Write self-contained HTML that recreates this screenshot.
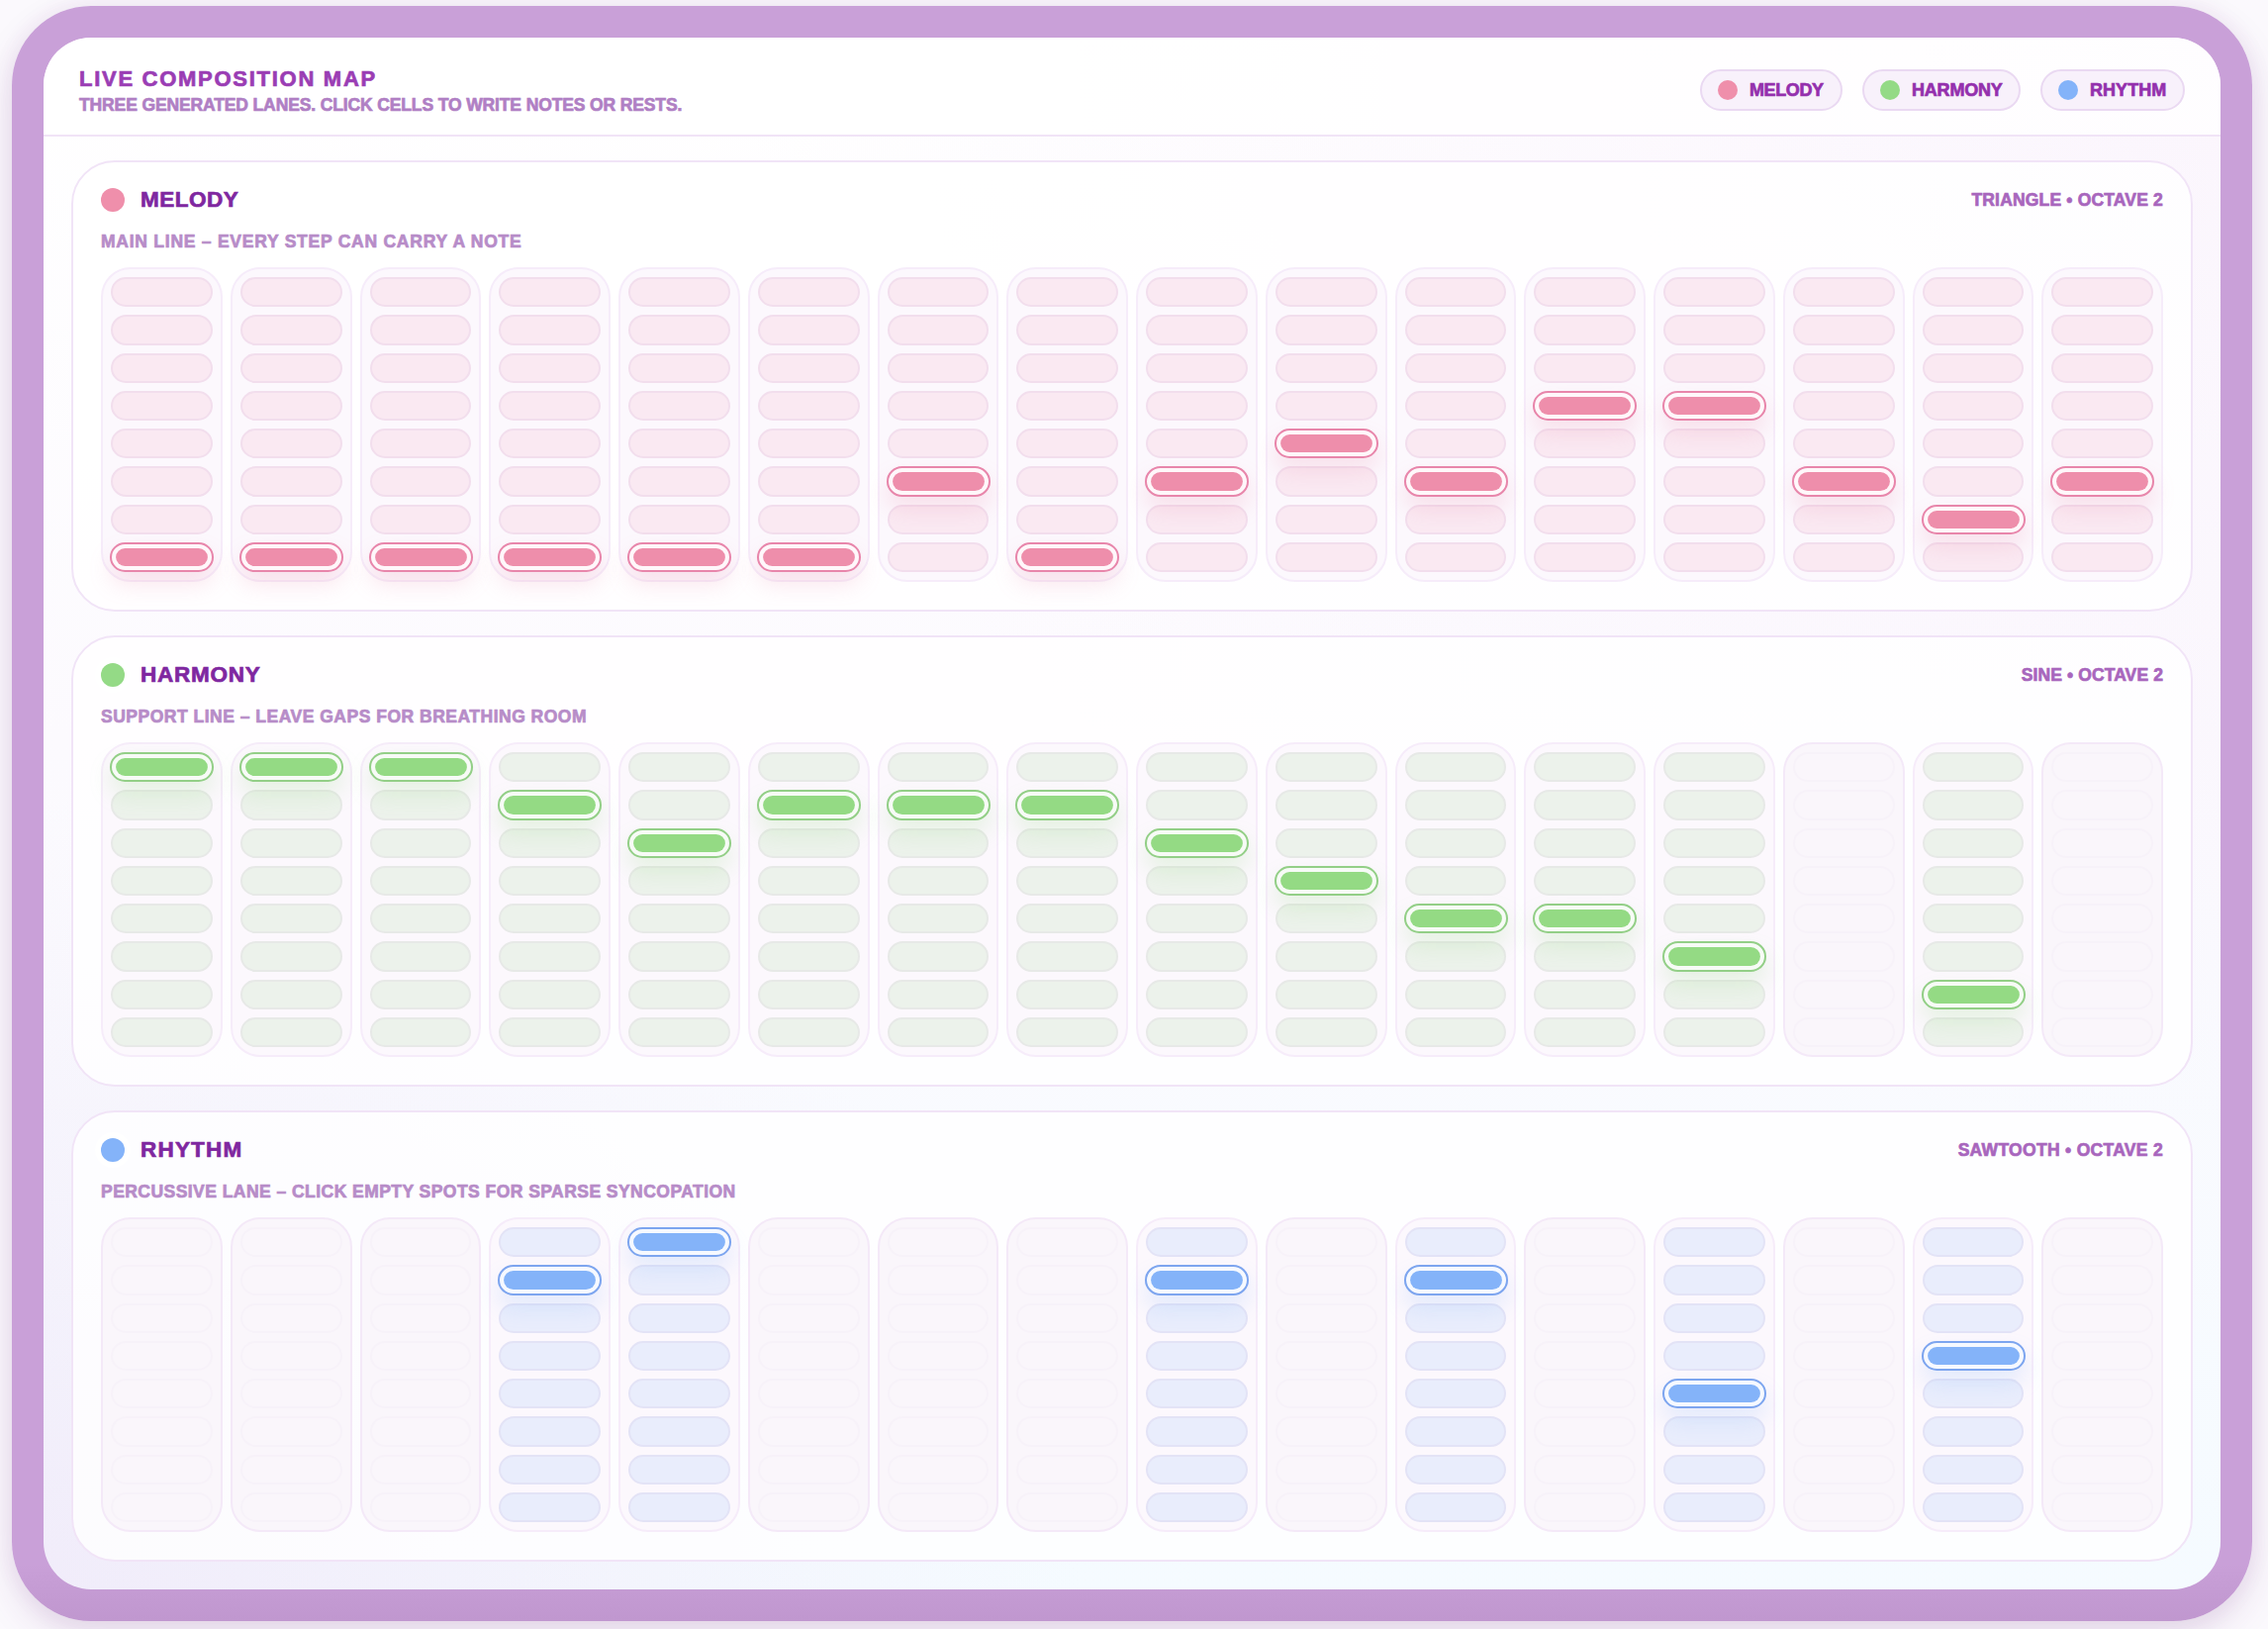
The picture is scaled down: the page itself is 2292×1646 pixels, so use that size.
<!DOCTYPE html>
<html lang="en">
<head>
<meta charset="utf-8">
<title>Live Composition Map</title>
<style>
*{box-sizing:border-box;margin:0;padding:0}
html,body{width:2292px;height:1646px;overflow:hidden}
body{font-family:"Liberation Sans",sans-serif;font-weight:700;background:#fbf9fd;position:relative}
i{font-style:normal;display:block}
.frame{position:absolute;left:12px;top:6px;width:2264px;height:1632px;border-radius:80px;background:linear-gradient(180deg,#c9a0d8 0%,#c9a0d8 96.5%,#c49bd3 98.2%,#c097cf 100%);box-shadow:0 14px 36px rgba(110,40,130,.15),0 0 22px rgba(110,40,130,.07)}
.inner{position:absolute;left:32px;top:32px;width:2200px;height:1568px;border-radius:48px;overflow:hidden;background:radial-gradient(ellipse 1500px 1100px at 100% 0%,rgba(238,214,246,.22),rgba(238,210,244,0) 100%),radial-gradient(ellipse 1050px 800px at 0% 100%,rgba(237,224,246,.55),rgba(237,224,246,0) 100%),linear-gradient(180deg,#ffffff 0%,#fcfafe 45%,#f5fbff 100%)}
.top{position:absolute;left:0;top:0;width:2200px;height:100px;background:rgba(255,255,255,.8);border-bottom:2px solid #f1e4f7}
.title,.subtitle,.pill b,.lname,.lmeta,.lsub{-webkit-text-stroke:.7px currentColor}
.title{position:absolute;left:36px;top:29px;font-size:22px;line-height:26px;color:#9a3db4;white-space:nowrap}
.subtitle{position:absolute;left:36px;top:58px;font-size:17.5px;line-height:20px;color:#b07fc4;white-space:nowrap}
.pill{position:absolute;top:32px;height:42px;border:2px solid #ead9f2;border-radius:21px;background:#f8f1fb;color:#9430ad;font-size:18px;line-height:22px}
.p-mel{left:1674px;width:144px}
.p-har{left:1838px;width:160px}
.p-rhy{left:2018px;width:146px}
.pill b{position:absolute;left:48px;top:8px;white-space:nowrap}
.dot{position:absolute;left:16px;top:9px;width:20px;height:20px;border-radius:50%}
.dot.mel,.mel .ldot{background:#ef8fab}
.dot.har,.har .ldot{background:#94da86}
.dot.rhy,.rhy .ldot{background:#84b3f9}
.lane{position:absolute;left:28px;width:2144px;height:456px;border:2px solid #f1e4f7;border-radius:44px;background:rgba(255,255,255,.8)}
.ldot{position:absolute;left:28px;top:26px;width:24px;height:24px;border-radius:50%;box-shadow:0 0 0 6px rgba(255,255,255,.75)}
.lname{position:absolute;left:68px;top:25px;font-size:22.5px;line-height:26px;color:#7f27a0;white-space:nowrap}
.lmeta{position:absolute;right:28px;top:28px;font-size:17.5px;line-height:20px;color:#a866bd;white-space:nowrap}
.lsub{position:absolute;left:28px;top:70px;font-size:17.5px;line-height:20px;color:#b78cc8;white-space:nowrap}
.grid{position:absolute;left:28px;top:106px;width:2084px;height:318px;display:grid;grid-template-columns:repeat(16,1fr);gap:8px}
.col{border:2px solid #f6ecfa;border-radius:30px;background:#fcf8fd;padding:8px;display:flex;flex-direction:column;gap:8px}
.c{flex:1;border-radius:16px;border:2px solid;position:relative}
.mel .c{background:#fae9f2;border-color:#f2deed}
.har .c{background:#ecf2eb;border-color:#e7e9e7}
.rhy .c{background:#e9edfc;border-color:#e3e3f6}
.col.rest{background:#faf6fb;border-color:#f4e9f8}
.rest .c{background:#faf6fb;border-color:#f7f2f9}
.c.on{transform:scaleX(1.02);z-index:2}
.c.on::after{content:"";position:absolute;left:3.7px;top:4px;right:3.7px;bottom:4px;border-radius:12px}
.mel .c.on{background:#fff7fa;border-color:#e886ab;box-shadow:0 12px 22px rgba(239,143,171,.22)}
.mel .c.on::after{background:#ee8eab}
.har .c.on{background:#f7fbf6;border-color:#93cf87;box-shadow:0 12px 22px rgba(148,218,134,.22)}
.har .c.on::after{background:#94da84}
.rhy .c.on{background:#f6f9ff;border-color:#7da5ef;box-shadow:0 12px 22px rgba(132,179,249,.20)}
.rhy .c.on::after{background:#84b3f9}

</style>
</head>
<body>
<div class="frame">
<div class="inner">
<header class="top">
<h1 class="title" id="title" style="letter-spacing:1.721px">LIVE COMPOSITION MAP</h1>
<p class="subtitle" id="subtitle" style="letter-spacing:-0.128px">THREE GENERATED LANES. CLICK CELLS TO WRITE NOTES OR RESTS.</p>
<span class="pill p-mel"><i class="dot mel"></i><b id="leg_mel" style="letter-spacing:-0.380px">MELODY</b></span>
<span class="pill p-har"><i class="dot har"></i><b id="leg_har" style="letter-spacing:-0.200px">HARMONY</b></span>
<span class="pill p-rhy"><i class="dot rhy"></i><b id="leg_rhy" style="letter-spacing:0.060px">RHYTHM</b></span>
</header>
<section class="lane mel" style="top:124px">
<i class="ldot"></i><h2 class="lname" id="lname_mel" style="letter-spacing:0.520px">MELODY</h2><span class="lmeta" id="lmeta_mel" style="letter-spacing:0.178px">TRIANGLE &bull; OCTAVE 2</span>
<p class="lsub" id="lsub_mel" style="letter-spacing:0.753px">MAIN LINE &ndash; EVERY STEP CAN CARRY A NOTE</p>
<div class="grid">
<div class="col"><i class="c"></i><i class="c"></i><i class="c"></i><i class="c"></i><i class="c"></i><i class="c"></i><i class="c"></i><i class="c on"></i></div>
<div class="col"><i class="c"></i><i class="c"></i><i class="c"></i><i class="c"></i><i class="c"></i><i class="c"></i><i class="c"></i><i class="c on"></i></div>
<div class="col"><i class="c"></i><i class="c"></i><i class="c"></i><i class="c"></i><i class="c"></i><i class="c"></i><i class="c"></i><i class="c on"></i></div>
<div class="col"><i class="c"></i><i class="c"></i><i class="c"></i><i class="c"></i><i class="c"></i><i class="c"></i><i class="c"></i><i class="c on"></i></div>
<div class="col"><i class="c"></i><i class="c"></i><i class="c"></i><i class="c"></i><i class="c"></i><i class="c"></i><i class="c"></i><i class="c on"></i></div>
<div class="col"><i class="c"></i><i class="c"></i><i class="c"></i><i class="c"></i><i class="c"></i><i class="c"></i><i class="c"></i><i class="c on"></i></div>
<div class="col"><i class="c"></i><i class="c"></i><i class="c"></i><i class="c"></i><i class="c"></i><i class="c on"></i><i class="c"></i><i class="c"></i></div>
<div class="col"><i class="c"></i><i class="c"></i><i class="c"></i><i class="c"></i><i class="c"></i><i class="c"></i><i class="c"></i><i class="c on"></i></div>
<div class="col"><i class="c"></i><i class="c"></i><i class="c"></i><i class="c"></i><i class="c"></i><i class="c on"></i><i class="c"></i><i class="c"></i></div>
<div class="col"><i class="c"></i><i class="c"></i><i class="c"></i><i class="c"></i><i class="c on"></i><i class="c"></i><i class="c"></i><i class="c"></i></div>
<div class="col"><i class="c"></i><i class="c"></i><i class="c"></i><i class="c"></i><i class="c"></i><i class="c on"></i><i class="c"></i><i class="c"></i></div>
<div class="col"><i class="c"></i><i class="c"></i><i class="c"></i><i class="c on"></i><i class="c"></i><i class="c"></i><i class="c"></i><i class="c"></i></div>
<div class="col"><i class="c"></i><i class="c"></i><i class="c"></i><i class="c on"></i><i class="c"></i><i class="c"></i><i class="c"></i><i class="c"></i></div>
<div class="col"><i class="c"></i><i class="c"></i><i class="c"></i><i class="c"></i><i class="c"></i><i class="c on"></i><i class="c"></i><i class="c"></i></div>
<div class="col"><i class="c"></i><i class="c"></i><i class="c"></i><i class="c"></i><i class="c"></i><i class="c"></i><i class="c on"></i><i class="c"></i></div>
<div class="col"><i class="c"></i><i class="c"></i><i class="c"></i><i class="c"></i><i class="c"></i><i class="c on"></i><i class="c"></i><i class="c"></i></div>
</div>
</section>
<section class="lane har" style="top:604px">
<i class="ldot"></i><h2 class="lname" id="lname_har" style="letter-spacing:0.750px">HARMONY</h2><span class="lmeta" id="lmeta_har" style="letter-spacing:0.107px">SINE &bull; OCTAVE 2</span>
<p class="lsub" id="lsub_har" style="letter-spacing:0.502px">SUPPORT LINE &ndash; LEAVE GAPS FOR BREATHING ROOM</p>
<div class="grid">
<div class="col"><i class="c on"></i><i class="c"></i><i class="c"></i><i class="c"></i><i class="c"></i><i class="c"></i><i class="c"></i><i class="c"></i></div>
<div class="col"><i class="c on"></i><i class="c"></i><i class="c"></i><i class="c"></i><i class="c"></i><i class="c"></i><i class="c"></i><i class="c"></i></div>
<div class="col"><i class="c on"></i><i class="c"></i><i class="c"></i><i class="c"></i><i class="c"></i><i class="c"></i><i class="c"></i><i class="c"></i></div>
<div class="col"><i class="c"></i><i class="c on"></i><i class="c"></i><i class="c"></i><i class="c"></i><i class="c"></i><i class="c"></i><i class="c"></i></div>
<div class="col"><i class="c"></i><i class="c"></i><i class="c on"></i><i class="c"></i><i class="c"></i><i class="c"></i><i class="c"></i><i class="c"></i></div>
<div class="col"><i class="c"></i><i class="c on"></i><i class="c"></i><i class="c"></i><i class="c"></i><i class="c"></i><i class="c"></i><i class="c"></i></div>
<div class="col"><i class="c"></i><i class="c on"></i><i class="c"></i><i class="c"></i><i class="c"></i><i class="c"></i><i class="c"></i><i class="c"></i></div>
<div class="col"><i class="c"></i><i class="c on"></i><i class="c"></i><i class="c"></i><i class="c"></i><i class="c"></i><i class="c"></i><i class="c"></i></div>
<div class="col"><i class="c"></i><i class="c"></i><i class="c on"></i><i class="c"></i><i class="c"></i><i class="c"></i><i class="c"></i><i class="c"></i></div>
<div class="col"><i class="c"></i><i class="c"></i><i class="c"></i><i class="c on"></i><i class="c"></i><i class="c"></i><i class="c"></i><i class="c"></i></div>
<div class="col"><i class="c"></i><i class="c"></i><i class="c"></i><i class="c"></i><i class="c on"></i><i class="c"></i><i class="c"></i><i class="c"></i></div>
<div class="col"><i class="c"></i><i class="c"></i><i class="c"></i><i class="c"></i><i class="c on"></i><i class="c"></i><i class="c"></i><i class="c"></i></div>
<div class="col"><i class="c"></i><i class="c"></i><i class="c"></i><i class="c"></i><i class="c"></i><i class="c on"></i><i class="c"></i><i class="c"></i></div>
<div class="col rest"><i class="c"></i><i class="c"></i><i class="c"></i><i class="c"></i><i class="c"></i><i class="c"></i><i class="c"></i><i class="c"></i></div>
<div class="col"><i class="c"></i><i class="c"></i><i class="c"></i><i class="c"></i><i class="c"></i><i class="c"></i><i class="c on"></i><i class="c"></i></div>
<div class="col rest"><i class="c"></i><i class="c"></i><i class="c"></i><i class="c"></i><i class="c"></i><i class="c"></i><i class="c"></i><i class="c"></i></div>
</div>
</section>
<section class="lane rhy" style="top:1084px">
<i class="ldot"></i><h2 class="lname" id="lname_rhy" style="letter-spacing:1.200px">RHYTHM</h2><span class="lmeta" id="lmeta_rhy" style="letter-spacing:0.306px">SAWTOOTH &bull; OCTAVE 2</span>
<p class="lsub" id="lsub_rhy" style="letter-spacing:0.456px">PERCUSSIVE LANE &ndash; CLICK EMPTY SPOTS FOR SPARSE SYNCOPATION</p>
<div class="grid">
<div class="col rest"><i class="c"></i><i class="c"></i><i class="c"></i><i class="c"></i><i class="c"></i><i class="c"></i><i class="c"></i><i class="c"></i></div>
<div class="col rest"><i class="c"></i><i class="c"></i><i class="c"></i><i class="c"></i><i class="c"></i><i class="c"></i><i class="c"></i><i class="c"></i></div>
<div class="col rest"><i class="c"></i><i class="c"></i><i class="c"></i><i class="c"></i><i class="c"></i><i class="c"></i><i class="c"></i><i class="c"></i></div>
<div class="col"><i class="c"></i><i class="c on"></i><i class="c"></i><i class="c"></i><i class="c"></i><i class="c"></i><i class="c"></i><i class="c"></i></div>
<div class="col"><i class="c on"></i><i class="c"></i><i class="c"></i><i class="c"></i><i class="c"></i><i class="c"></i><i class="c"></i><i class="c"></i></div>
<div class="col rest"><i class="c"></i><i class="c"></i><i class="c"></i><i class="c"></i><i class="c"></i><i class="c"></i><i class="c"></i><i class="c"></i></div>
<div class="col rest"><i class="c"></i><i class="c"></i><i class="c"></i><i class="c"></i><i class="c"></i><i class="c"></i><i class="c"></i><i class="c"></i></div>
<div class="col rest"><i class="c"></i><i class="c"></i><i class="c"></i><i class="c"></i><i class="c"></i><i class="c"></i><i class="c"></i><i class="c"></i></div>
<div class="col"><i class="c"></i><i class="c on"></i><i class="c"></i><i class="c"></i><i class="c"></i><i class="c"></i><i class="c"></i><i class="c"></i></div>
<div class="col rest"><i class="c"></i><i class="c"></i><i class="c"></i><i class="c"></i><i class="c"></i><i class="c"></i><i class="c"></i><i class="c"></i></div>
<div class="col"><i class="c"></i><i class="c on"></i><i class="c"></i><i class="c"></i><i class="c"></i><i class="c"></i><i class="c"></i><i class="c"></i></div>
<div class="col rest"><i class="c"></i><i class="c"></i><i class="c"></i><i class="c"></i><i class="c"></i><i class="c"></i><i class="c"></i><i class="c"></i></div>
<div class="col"><i class="c"></i><i class="c"></i><i class="c"></i><i class="c"></i><i class="c on"></i><i class="c"></i><i class="c"></i><i class="c"></i></div>
<div class="col rest"><i class="c"></i><i class="c"></i><i class="c"></i><i class="c"></i><i class="c"></i><i class="c"></i><i class="c"></i><i class="c"></i></div>
<div class="col"><i class="c"></i><i class="c"></i><i class="c"></i><i class="c on"></i><i class="c"></i><i class="c"></i><i class="c"></i><i class="c"></i></div>
<div class="col rest"><i class="c"></i><i class="c"></i><i class="c"></i><i class="c"></i><i class="c"></i><i class="c"></i><i class="c"></i><i class="c"></i></div>
</div>
</section>
</div>
</div>
</body>
</html>
